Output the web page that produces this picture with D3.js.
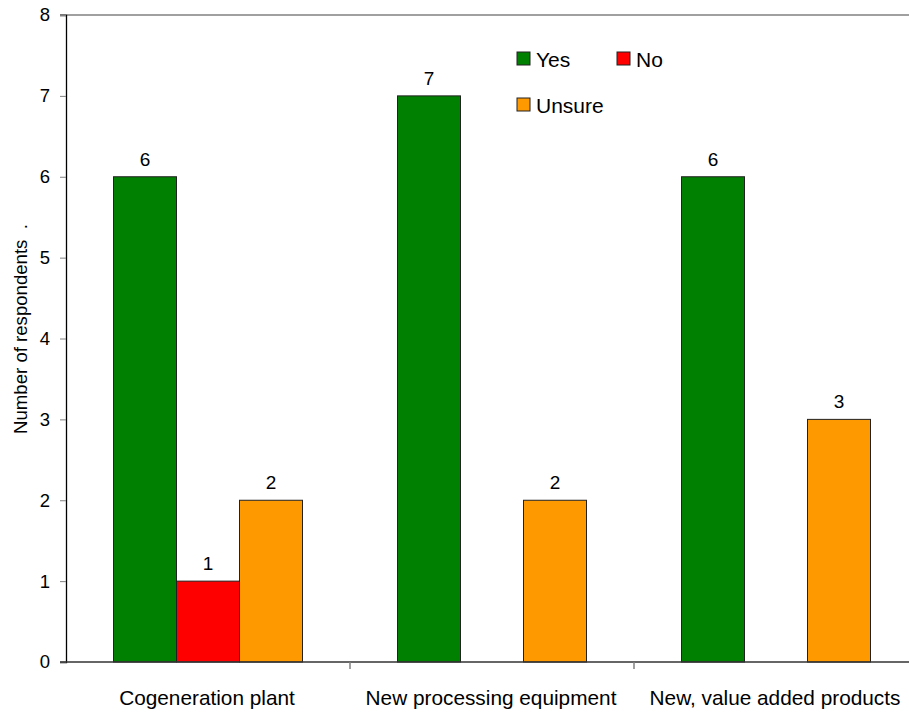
<!DOCTYPE html>
<html>
<head>
<meta charset="utf-8">
<script src="https://cdn.jsdelivr.net/npm/d3@7"></script>
<style>
  html, body { margin: 0; padding: 0; background: #fff; }
  svg { display: block; font-family: Arial, "Liberation Sans", sans-serif; }
</style>
</head>
<body>
<svg id="chart" width="909" height="713"></svg>
<script>
// Survey responses by investment type
const categories = ["Cogeneration plant", "New processing equipment", "New, value added products"];
const seriesNames = ["Yes", "No", "Unsure"];
const yesValues = [6, 7, 6];
const noValues = [1, 0, 0];
const unsureValues = [2, 2, 3];
const yTicks = [0, 1, 2, 3, 4, 5, 6, 7, 8];
const colors = { "Yes": "#008000", "No": "#ff0000", "Unsure": "#ff9900" };

const seriesValues = { "Yes": yesValues, "No": noValues, "Unsure": unsureValues };
const rows = categories.map((c, i) => ({
  category: c,
  values: seriesNames.map(s => ({ series: s, value: seriesValues[s][i] }))
}));

const svg = d3.select("#chart");
const plotLeft = 66, plotRight = 918, plotTop = 15, plotBottom = 662;

const x = d3.scaleBand().domain(categories).range([plotLeft, plotRight]).padding(0);
const xs = d3.scaleBand().domain(seriesNames).range([0, x.bandwidth()])
  .paddingInner(0).paddingOuter(0.754);
const y = d3.scaleLinear().domain([0, 8]).range([plotBottom, plotTop]);

// top frame line
svg.append("line")
  .attr("x1", plotLeft - 6).attr("x2", 909)
  .attr("y1", y(8)).attr("y2", y(8))
  .attr("stroke", "#808080").attr("stroke-width", 1.5);

// y axis
const yAxis = svg.append("g")
  .attr("transform", `translate(${plotLeft},0)`)
  .call(d3.axisLeft(y).tickValues(yTicks).tickSize(6).tickPadding(10).tickFormat(d3.format("d")));
yAxis.select(".domain").attr("stroke", "#000").attr("stroke-width", 1.3);
yAxis.selectAll(".tick line").attr("stroke", "#808080");
yAxis.selectAll(".tick text").attr("font-size", 18.5).attr("fill", "#000")
  .attr("font-family", "Arial, 'Liberation Sans', sans-serif");

// bars
const groups = svg.append("g").selectAll("g").data(rows).join("g")
  .attr("transform", d => `translate(${x(d.category)},0)`);

groups.selectAll("rect").data(d => d.values.filter(v => v.value > 0)).join("rect")
  .attr("x", d => xs(d.series))
  .attr("y", d => y(d.value))
  .attr("width", xs.bandwidth())
  .attr("height", d => y(0) - y(d.value))
  .attr("fill", d => colors[d.series])
  .attr("stroke", "#222").attr("stroke-width", 1);

groups.selectAll("text").data(d => d.values.filter(v => v.value > 0)).join("text")
  .attr("x", d => xs(d.series) + xs.bandwidth() / 2)
  .attr("y", d => y(d.value) - 11)
  .attr("text-anchor", "middle")
  .attr("font-size", 19)
  .attr("fill", "#000")
  .text(d => d.value);

// x axis
const xAxis = svg.append("g")
  .attr("transform", `translate(0,${plotBottom})`);
xAxis.append("line")
  .attr("x1", plotLeft - 6).attr("x2", 909)
  .attr("stroke", "#333").attr("stroke-width", 1.5);
xAxis.selectAll("line.tk").data(categories.slice(1)).join("line")
  .attr("class", "tk")
  .attr("x1", d => x(d)).attr("x2", d => x(d))
  .attr("y1", 0).attr("y2", 7)
  .attr("stroke", "#808080").attr("stroke-width", 1.5);
xAxis.selectAll("text").data(categories).join("text")
  .attr("x", d => x(d) + x.bandwidth() / 2 - 1)
  .attr("y", 43)
  .attr("text-anchor", "middle")
  .attr("font-size", 20.8)
  .attr("fill", "#000")
  .text(d => d);

// y axis title
svg.append("text")
  .attr("transform", "translate(27,329) rotate(-90)")
  .attr("text-anchor", "middle")
  .attr("font-size", 18.6)
  .attr("fill", "#000")
  .style("white-space", "pre")
  .text("Number of respondents  .");

// legend
const legendPos = [
  { series: "Yes", x: 517, y: 52 },
  { series: "No", x: 617, y: 52 },
  { series: "Unsure", x: 517, y: 98 }
];
const legend = svg.append("g").selectAll("g").data(legendPos).join("g")
  .attr("transform", d => `translate(${d.x},${d.y})`);
legend.append("rect")
  .attr("width", 13).attr("height", 13)
  .attr("fill", d => colors[d.series])
  .attr("stroke", "#222").attr("stroke-width", 1);
legend.append("text")
  .attr("x", 19).attr("y", 15)
  .attr("font-size", 21)
  .attr("fill", "#000")
  .text(d => d.series);
</script>
</body>
</html>
